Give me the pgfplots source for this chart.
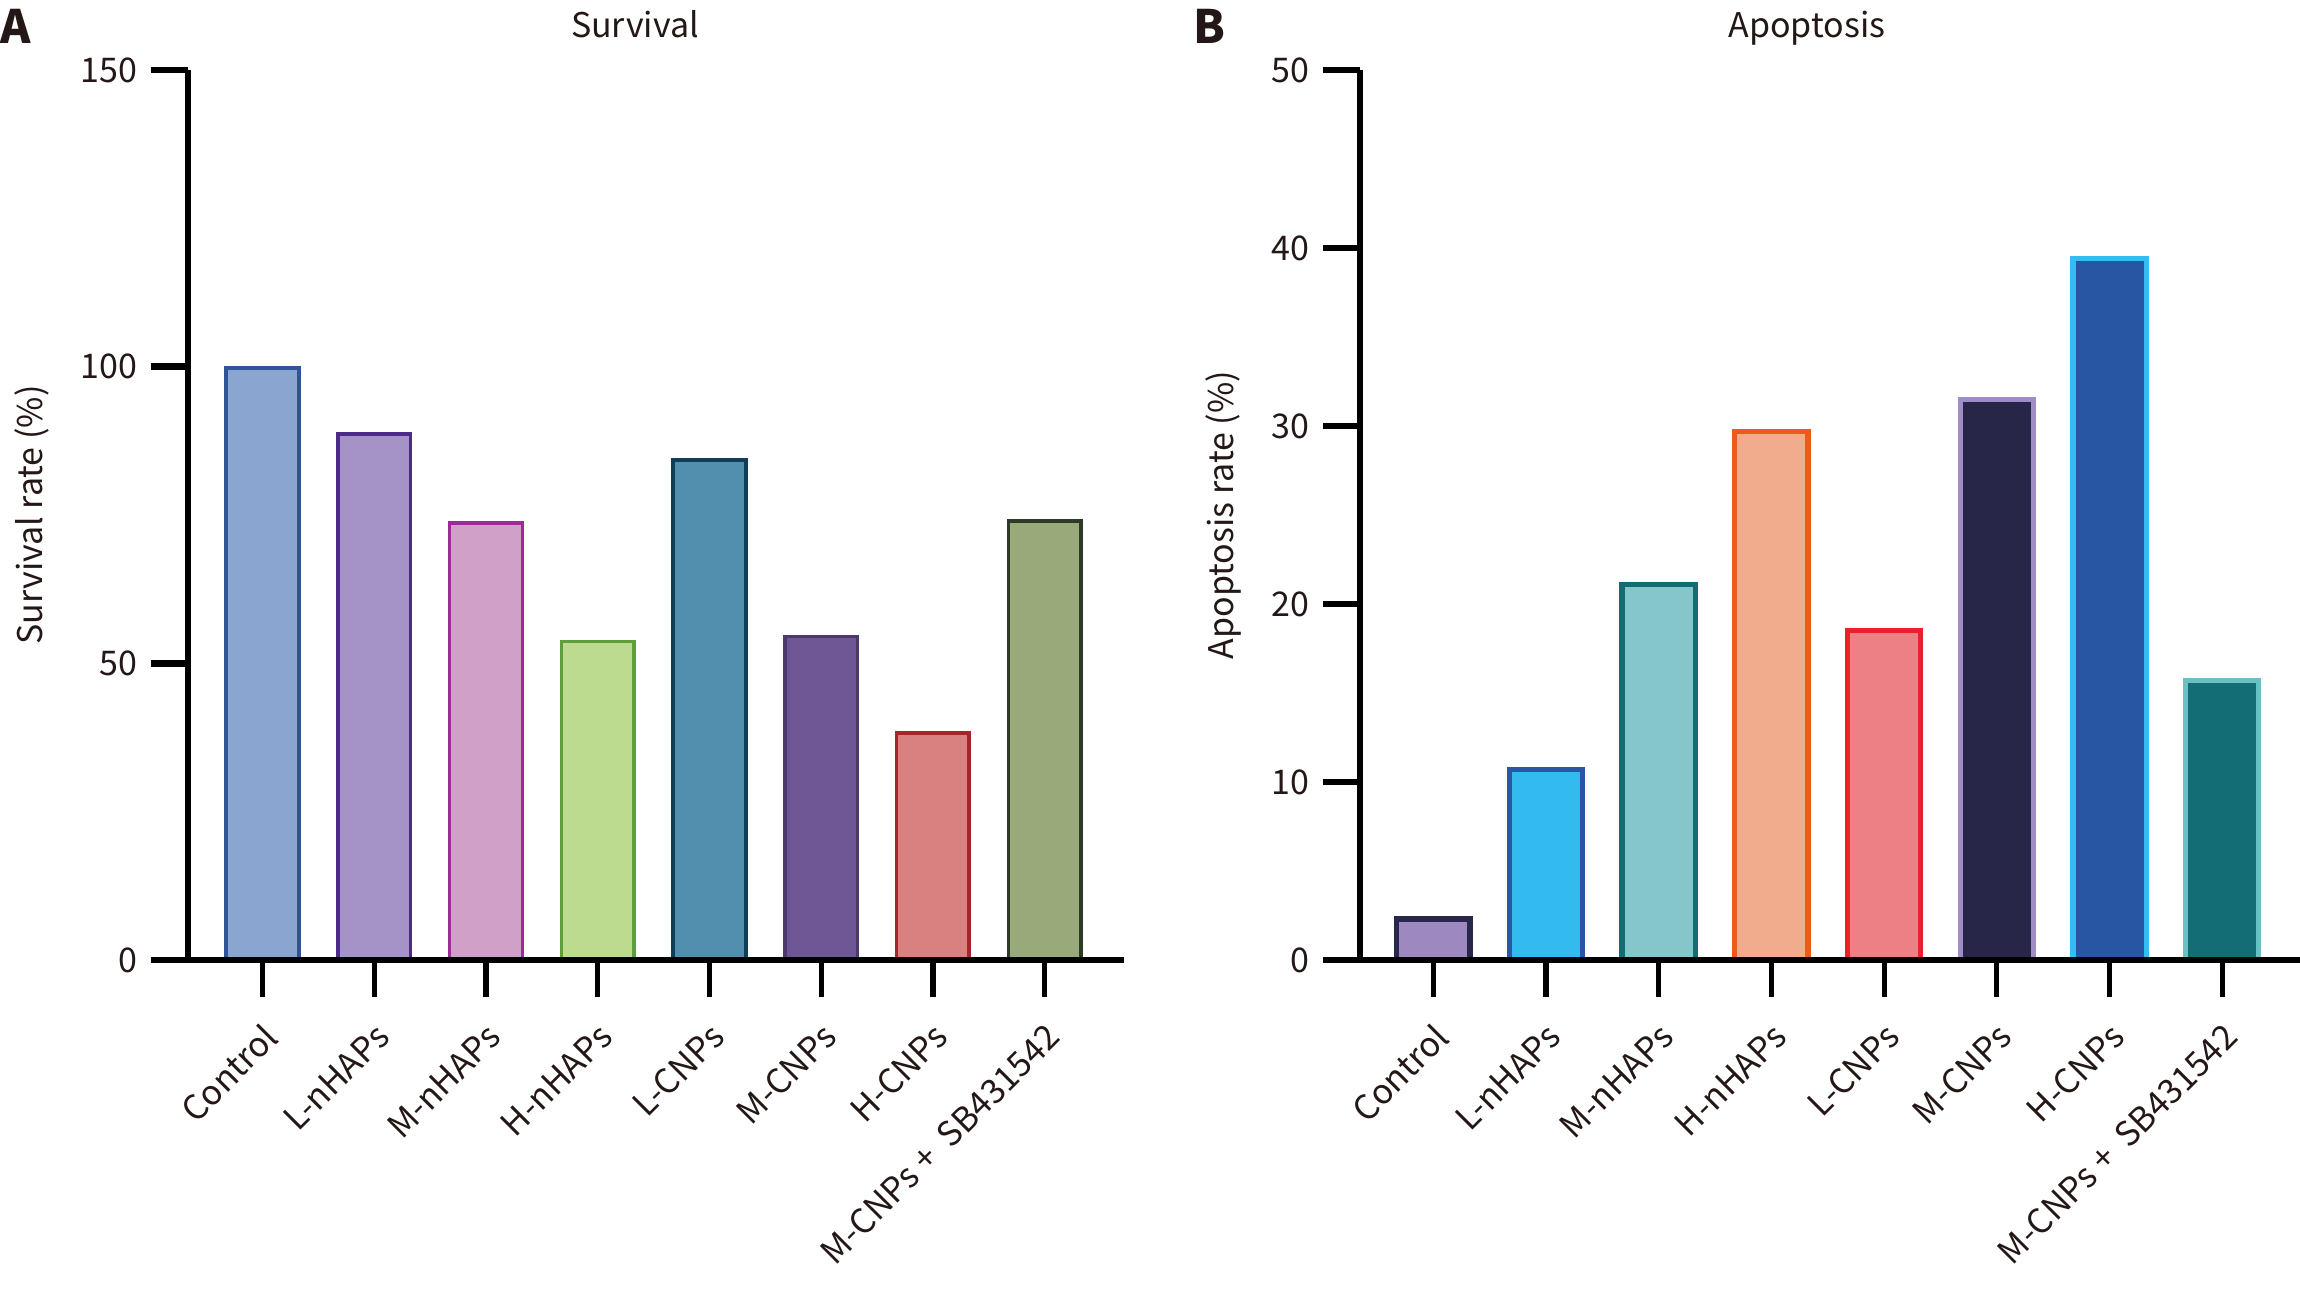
\documentclass[border=0pt]{standalone}
\usepackage{pgfplots}
\pgfplotsset{compat=1.18}
\usepackage{fontspec}
\setmainfont{Noto Sans CJK SC}

\definecolor{txt}{HTML}{231815}
% left colours
\definecolor{aF1}{HTML}{8AA6D0}\definecolor{aD1}{HTML}{2F5597}
\definecolor{aF2}{HTML}{A593C7}\definecolor{aD2}{HTML}{4B2A8A}
\definecolor{aF3}{HTML}{D1A0C9}\definecolor{aD3}{HTML}{A0289A}
\definecolor{aF4}{HTML}{BDDB8F}\definecolor{aD4}{HTML}{5E9E3B}
\definecolor{aF5}{HTML}{528FAE}\definecolor{aD5}{HTML}{0F3F57}
\definecolor{aF6}{HTML}{6F5695}\definecolor{aD6}{HTML}{4C3A6E}
\definecolor{aF7}{HTML}{D98081}\definecolor{aD7}{HTML}{A3262B}
\definecolor{aF8}{HTML}{98AA7A}\definecolor{aD8}{HTML}{2E3A26}
% right colours
\definecolor{bF1}{HTML}{9D88C0}\definecolor{bD1}{HTML}{28264A}
\definecolor{bF2}{HTML}{33BAEE}\definecolor{bD2}{HTML}{2A56A4}
\definecolor{bF3}{HTML}{85C6CA}\definecolor{bD3}{HTML}{146C73}
\definecolor{bF4}{HTML}{F0AC8C}\definecolor{bD4}{HTML}{EC5A1E}
\definecolor{bF5}{HTML}{EC8084}\definecolor{bD5}{HTML}{E8222A}
\definecolor{bF6}{HTML}{272649}\definecolor{bD6}{HTML}{A08CC6}
\definecolor{bF7}{HTML}{2856A3}\definecolor{bD7}{HTML}{33BDF0}
\definecolor{bF8}{HTML}{136D74}\definecolor{bD8}{HTML}{6CC0C4}

\tikzset{ttl/.style={anchor=base, inner sep=0pt, font=\fontsize{8.5}{10}\selectfont, text=txt}}

\pgfplotsset{
  common/.style={
    scale only axis, anchor=south west,
    axis on top, clip=false,
    axis x line*=bottom, axis y line*=left,
    axis line style={-, line width=1.6pt, black},
    xtick={0,...,7},
    xticklabels={Control,L-nHAPs,M-nHAPs,H-nHAPs,L-CNPs,M-CNPs,H-CNPs,M-CNPs\ + \ SB431542},
    tick align=outside,
    major tick length=9.2pt,
    ytick style={line width=1.6pt, black},
    xtick style={line width=1.3pt, black},
    ymin=0,
    /pgf/number format/assume math mode=true,
    tick label style={font=\fontsize{8.5}{10}\selectfont, text=txt},
    xticklabel style={xshift=4.6pt, yshift=-6pt, rotate=45, anchor=east},
    every axis y label/.style={rotate=90, anchor=center, font=\fontsize{8.5}{10}\selectfont, text=txt},
    ybar, bar width=0.65, bar shift=0pt,
  },
}

\begin{document}
\begin{tikzpicture}
\useasboundingbox (0,0) rectangle (575pt,-322pt);

\node[anchor=north west, inner sep=0pt, font=\bfseries\fontsize{11.5}{12}\selectfont, text=txt] at (0pt,-2pt) {A};
\node[anchor=north west, inner sep=0pt, font=\bfseries\fontsize{11.5}{12}\selectfont, text=txt] at (298.2pt,-2pt) {B};

\begin{axis}[common,
  at={(47pt,-240pt)}, width=234pt, height=222.5pt,
  xmin=-0.667, xmax=7.71,
  ymax=150, ytick={0,50,100,150},
  ylabel={Survival rate (\%)},
  ylabel style={at={(axis description cs:-0.1667,0.5)}},
]
\addplot[fill=aF1, draw=aD1, line width=0.9pt] coordinates {(0,99.8)};
\addplot[fill=aF2, draw=aD2, line width=0.9pt] coordinates {(1,88.7)};
\addplot[fill=aF3, draw=aD3, line width=0.9pt] coordinates {(2,73.7)};
\addplot[fill=aF4, draw=aD4, line width=0.9pt] coordinates {(3,53.7)};
\addplot[fill=aF5, draw=aD5, line width=0.9pt] coordinates {(4,84.3)};
\addplot[fill=aF6, draw=aD6, line width=0.9pt] coordinates {(5,54.5)};
\addplot[fill=aF7, draw=aD7, line width=0.9pt] coordinates {(6,38.3)};
\addplot[fill=aF8, draw=aD8, line width=0.9pt] coordinates {(7,74.0)};
\node[ttl] at (axis description cs:0.4776,1.036) {Survival};
\end{axis}

\begin{axis}[common,
  at={(340pt,-240pt)}, width=235pt, height=222.5pt,
  xmin=-0.65, xmax=7.69,
  ymax=50, ytick={0,10,...,50},
  ylabel={Apoptosis rate (\%)},
  ylabel style={at={(axis description cs:-0.1457,0.5)}},
]
\addplot[fill=bF1, draw=bD1, line width=1.3pt] coordinates {(0,2.3)};
\addplot[fill=bF2, draw=bD2, line width=1.3pt] coordinates {(1,10.7)};
\addplot[fill=bF3, draw=bD3, line width=1.3pt] coordinates {(2,21.1)};
\addplot[fill=bF4, draw=bD4, line width=1.3pt] coordinates {(3,29.7)};
\addplot[fill=bF5, draw=bD5, line width=1.3pt] coordinates {(4,18.5)};
\addplot[fill=bF6, draw=bD6, line width=1.3pt] coordinates {(5,31.5)};
\addplot[fill=bF7, draw=bD7, line width=1.3pt] coordinates {(6,39.4)};
\addplot[fill=bF8, draw=bD8, line width=1.3pt] coordinates {(7,15.7)};
\node[ttl] at (axis description cs:0.4755,1.036) {Apoptosis};
\end{axis}
\end{tikzpicture}
\end{document}
